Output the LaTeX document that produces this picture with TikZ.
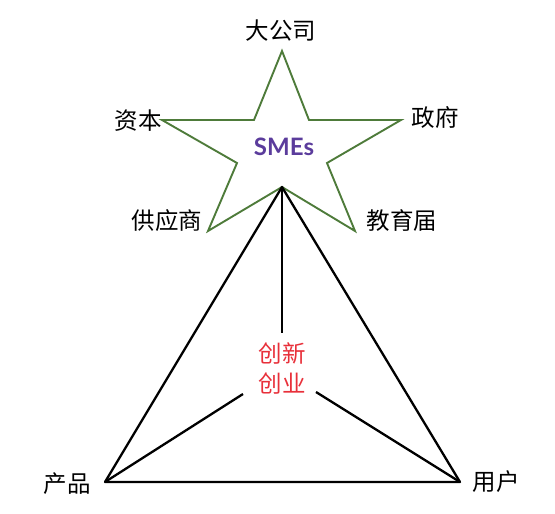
\documentclass[tikz,border=0pt]{standalone}
\usepackage{fontspec}
\newfontfamily\cjk{Noto Sans CJK SC}
\newfontfamily\latofont{Lato}
\definecolor{stargreen}{HTML}{4E7B3A}
\definecolor{smepurple}{HTML}{5B3C9C}
\definecolor{innred}{HTML}{E8303A}
\begin{document}
\begin{tikzpicture}[x=1pt,y=-1pt,
  lbl/.style={font=\cjk\fontsize{23.5}{26}\selectfont, inner sep=0pt},
  tri/.style={line width=2.3pt, black, line join=round},
  starline/.style={line width=1.9pt, stargreen, line join=miter}]
\useasboundingbox (0,0) rectangle (555,514);
% star
\coordinate (sTop) at (282,51);
\coordinate (sIUL) at (254,120);
\coordinate (sL) at (162,120);
\coordinate (sIL) at (237,163);
\coordinate (sBL) at (208,231);
\coordinate (sIB) at (282,187);
\coordinate (sBR) at (355,231);
\coordinate (sIR) at (327,163);
\coordinate (sR) at (401,120);
\coordinate (sIUR) at (309,120);
\draw[starline] (sTop) -- (sIUL) -- (sL) -- (sIL) -- (sBL) -- (sIB) -- (sBR) -- (sIR) -- (sR) -- (sIUR) -- cycle;
% triangle
\coordinate (tL) at (105,482);
\coordinate (tR) at (460,482);
\draw[tri] (sIB) -- (tL) -- (tR) -- cycle;
% inner spokes
\coordinate (cTop) at (282,333);
\coordinate (cL) at (243,394);
\coordinate (cR) at (316,392);
\draw[tri] (sIB) -- (cTop);
\draw[tri] (tL) -- (cL);
\draw[tri] (tR) -- (cR);
% labels
\node[lbl] (dgs) at (281,31) {大公司};
\node[lbl] (zb) at (138,121) {资本};
\node[lbl] (zf) at (435,118) {政府};
\node[lbl] (gys) at (167,221) {供应商};
\node[lbl] (jyj) at (402,221) {教育届};
\node[lbl] (cp) at (67,484) {产品};
\node[lbl] (yh) at (496,482) {用户};
\node[font=\latofont\bfseries\fontsize{24}{26}\selectfont, text=smepurple, inner sep=0pt] (sme) at (284,147) {SMEs};
\node[lbl, text=innred, align=center, font=\cjk\fontsize{23.5}{30}\selectfont] (cx) at (282,368) {创新\\创业};
\end{tikzpicture}
\end{document}
